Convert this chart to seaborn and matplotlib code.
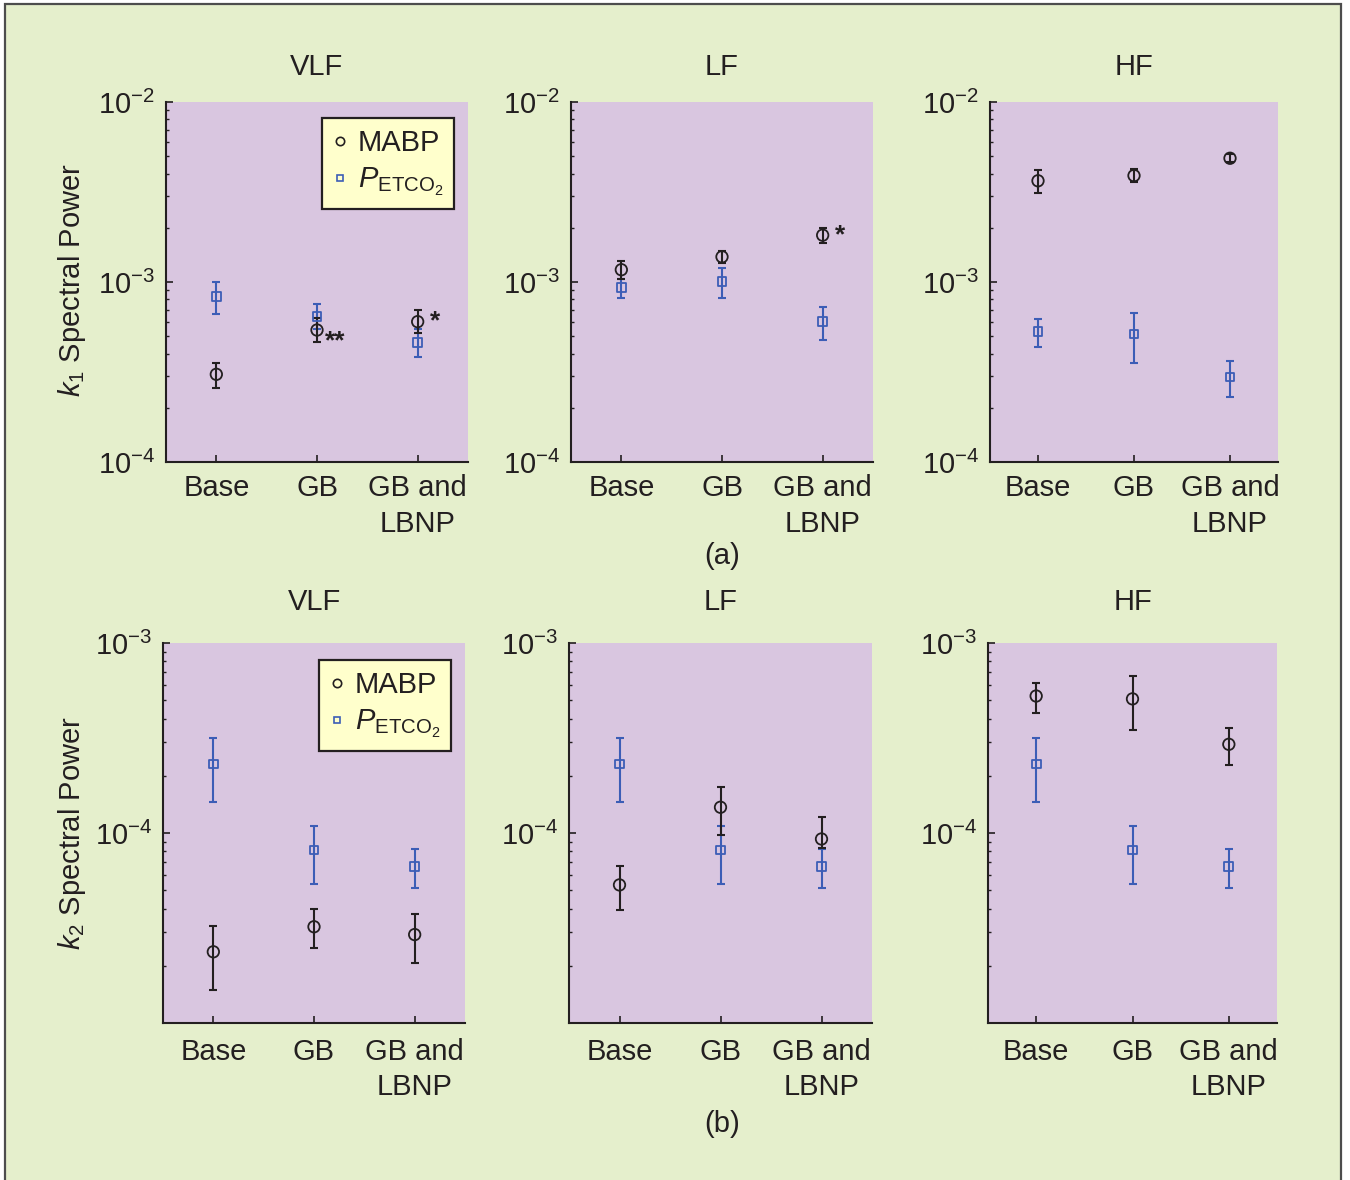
import numpy as np
import pandas as pd
import matplotlib
matplotlib.use("Agg")
import matplotlib.pyplot as plt
from matplotlib.patches import Rectangle
from matplotlib.lines import Line2D
from matplotlib.ticker import LogLocator, FixedLocator, LogFormatterMathtext, NullFormatter
import seaborn as sns

# ---------------------------------------------------------------- data
conditions = ["Base", "GB", "GB and\nLBNP"]
bands = ["VLF", "LF", "HF"]

# k1 spectral power (mean, lower bar end, upper bar end)
k1_vlf_mabp = [3.07e-4, 5.41e-4, 6.02e-4]
k1_vlf_mabp_lo = [2.59e-4, 4.66e-4, 5.20e-4]
k1_vlf_mabp_hi = [3.56e-4, 6.28e-4, 6.99e-4]
k1_vlf_pet = [8.28e-4, 6.42e-4, 4.62e-4]
k1_vlf_pet_lo = [6.62e-4, 5.48e-4, 3.82e-4]
k1_vlf_pet_hi = [9.96e-4, 7.52e-4, 5.48e-4]

k1_lf_mabp = [1.17e-3, 1.38e-3, 1.82e-3]
k1_lf_mabp_lo = [1.035e-3, 1.28e-3, 1.64e-3]
k1_lf_mabp_hi = [1.31e-3, 1.49e-3, 2.00e-3]
k1_lf_pet = [9.30e-4, 1.01e-3, 6.02e-4]
k1_lf_pet_lo = [8.18e-4, 8.12e-4, 4.76e-4]
k1_lf_pet_hi = [1.04e-3, 1.20e-3, 7.29e-4]

k1_hf_mabp = [3.65e-3, 3.90e-3, 4.87e-3]
k1_hf_mabp_lo = [3.11e-3, 3.59e-3, 4.62e-3]
k1_hf_mabp_hi = [4.17e-3, 4.23e-3, 5.12e-3]
k1_hf_pet = [5.30e-4, 5.14e-4, 2.97e-4]
k1_hf_pet_lo = [4.35e-4, 3.55e-4, 2.31e-4]
k1_hf_pet_hi = [6.25e-4, 6.73e-4, 3.64e-4]

# k2 spectral power
k2_vlf_mabp = [2.37e-5, 3.21e-5, 2.92e-5]
k2_vlf_mabp_lo = [1.49e-5, 2.49e-5, 2.06e-5]
k2_vlf_mabp_hi = [3.25e-5, 3.97e-5, 3.76e-5]
k2_vlf_pet = [2.31e-4, 8.14e-5, 6.65e-5]
k2_vlf_pet_lo = [1.46e-4, 5.39e-5, 5.12e-5]
k2_vlf_pet_hi = [3.16e-4, 1.093e-4, 8.24e-5]

k2_lf_mabp = [5.33e-5, 1.366e-4, 9.30e-5]
k2_lf_mabp_lo = [3.93e-5, 9.76e-5, 8.30e-5]
k2_lf_mabp_hi = [6.70e-5, 1.75e-4, 1.21e-4]
k2_lf_pet = [2.31e-4, 8.14e-5, 6.65e-5]
k2_lf_pet_lo = [1.46e-4, 5.39e-5, 5.12e-5]
k2_lf_pet_hi = [3.16e-4, 1.093e-4, 8.24e-5]

k2_hf_mabp = [5.26e-4, 5.08e-4, 2.93e-4]
k2_hf_mabp_lo = [4.30e-4, 3.48e-4, 2.27e-4]
k2_hf_mabp_hi = [6.18e-4, 6.70e-4, 3.57e-4]
k2_hf_pet = [2.31e-4, 8.14e-5, 6.65e-5]
k2_hf_pet_lo = [1.46e-4, 5.39e-5, 5.12e-5]
k2_hf_pet_hi = [3.16e-4, 1.093e-4, 8.24e-5]

# significance marks: (row, band index, condition index, text)
sig_marks = [(0, 0, 1, "**"), (0, 0, 2, "*"), (0, 1, 2, "*")]

# ---------------------------------------------------------------- style
BG = "#E5EFCC"
PANEL = "#D9C6E0"
BLUE = "#3C5DB6"
INK = "#231F20"
FS = 21

sns.set_style("ticks")
plt.rcParams["font.family"] = ["Liberation Sans", "DejaVu Sans"]
plt.rcParams["mathtext.fontset"] = "custom"
plt.rcParams["mathtext.rm"] = "Liberation Sans"
plt.rcParams["mathtext.it"] = "Liberation Sans:italic"
plt.rcParams["mathtext.sf"] = "Liberation Sans"
plt.rcParams["text.color"] = INK
plt.rcParams["axes.labelcolor"] = INK

fig = plt.figure(figsize=(13.5, 11.8), dpi=100)
fig.patch.set_facecolor("white")
W, H = 1350.0, 1180.0
fig.patches.append(Rectangle((5 / W, -0.01), 1336 / W, (H - 4) / H + 0.01,
                             transform=fig.transFigure, facecolor=BG,
                             edgecolor="#4d4d4d", linewidth=1.6, zorder=-10))

# axes boxes in pixel units: (left, top, right, bottom)
boxes = [
    [(166, 102, 468, 462), (571, 102, 873, 462), (990, 102, 1278, 462)],
    [(163, 643, 465, 1023), (569, 643, 872, 1023), (988, 643, 1277, 1023)],
]

panels = [
    [(k1_vlf_mabp, k1_vlf_mabp_lo, k1_vlf_mabp_hi, k1_vlf_pet, k1_vlf_pet_lo, k1_vlf_pet_hi),
     (k1_lf_mabp, k1_lf_mabp_lo, k1_lf_mabp_hi, k1_lf_pet, k1_lf_pet_lo, k1_lf_pet_hi),
     (k1_hf_mabp, k1_hf_mabp_lo, k1_hf_mabp_hi, k1_hf_pet, k1_hf_pet_lo, k1_hf_pet_hi)],
    [(k2_vlf_mabp, k2_vlf_mabp_lo, k2_vlf_mabp_hi, k2_vlf_pet, k2_vlf_pet_lo, k2_vlf_pet_hi),
     (k2_lf_mabp, k2_lf_mabp_lo, k2_lf_mabp_hi, k2_lf_pet, k2_lf_pet_lo, k2_lf_pet_hi),
     (k2_hf_mabp, k2_hf_mabp_lo, k2_hf_mabp_hi, k2_hf_pet, k2_hf_pet_lo, k2_hf_pet_hi)],
]
row_ylim = [(1e-4, 1e-2), (1e-5, 1e-3)]
row_major = [[1e-4, 1e-3, 1e-2], [1e-4, 1e-3]]
row_title_pad = [19.5, 24]
row_xpad = [9, 10.5]

pet_label = r"$\mathit{P}_{\mathrm{ETCO}_{2}}$"


def draw_series(ax, x, y, lo, hi, color, marker, size):
    y = np.asarray(y); lo = np.asarray(lo); hi = np.asarray(hi)
    ax.errorbar(x, y, yerr=[y - lo, hi - y], fmt="none", ecolor=color,
                elinewidth=1.5, capsize=2.6, capthick=1.5, zorder=2)
    df = pd.DataFrame({"cond": x, "power": y})
    sns.scatterplot(data=df, x="cond", y="power", marker=marker, s=size,
                    color=color, facecolor="none", edgecolor=color,
                    linewidth=1.3, ax=ax, zorder=3, legend=False)


axes = [[None] * 3 for _ in range(2)]
for r in range(2):
    for c in range(3):
        l, t, rr, b = boxes[r][c]
        ax = fig.add_axes([l / W, 1 - b / H, (rr - l) / W, (b - t) / H])
        axes[r][c] = ax
        ax.set_facecolor(PANEL)
        m, m_lo, m_hi, p, p_lo, p_hi = panels[r][c]
        x = np.arange(len(conditions))
        draw_series(ax, x, p, p_lo, p_hi, BLUE, "s", 40)
        draw_series(ax, x, m, m_lo, m_hi, INK, "o", 68)

        ax.set_yscale("log")
        ax.set_ylim(*row_ylim[r])
        ax.set_xlim(-0.5, 2.5)
        ax.yaxis.set_major_locator(FixedLocator(row_major[r]))
        ax.yaxis.set_major_formatter(LogFormatterMathtext())
        ax.yaxis.set_minor_locator(LogLocator(base=10, subs=np.arange(2, 10)))
        ax.yaxis.set_minor_formatter(NullFormatter())
        ax.set_xticks(x)
        ax.set_xticklabels(conditions, linespacing=1.33)
        ax.set_xlabel("")
        ax.set_ylabel("")
        for s in ("top", "right"):
            ax.spines[s].set_visible(False)
        for s in ("left", "bottom"):
            ax.spines[s].set_color(INK)
            ax.spines[s].set_linewidth(1.5)
        ax.tick_params(axis="x", which="major", direction="in", length=5,
                       width=1.2, colors=INK, labelsize=FS, pad=row_xpad[r])
        ax.tick_params(axis="y", which="major", direction="in", length=5,
                       width=1.2, colors=INK, labelsize=FS, pad=8)
        ax.tick_params(axis="y", which="minor", direction="in", length=2.5,
                       width=1.0, colors=INK)
        ax.set_title(bands[c], fontsize=FS, pad=row_title_pad[r], color=INK)
        ax.grid(False)

    # legend in the VLF panel
    handles = [
        Line2D([], [], ls="none", marker="o", ms=6, mfc="none", mec=INK, mew=1.2),
        Line2D([], [], ls="none", marker="s", ms=5, mfc="none", mec=BLUE, mew=1.2),
    ]
    leg = axes[r][0].legend(handles, ["MABP", pet_label], loc="upper right",
                            bbox_to_anchor=(0.955, 0.955), borderaxespad=0,
                            fontsize=FS, frameon=True, fancybox=False,
                            handlelength=0.45, handletextpad=0.4,
                            labelspacing=0.3, borderpad=0.38)
    leg.get_frame().set_facecolor("#FFFFCC")
    leg.get_frame().set_edgecolor(INK)
    leg.get_frame().set_linewidth(1.6)
    leg.get_frame().set_alpha(1)

for r, c, i, txt in sig_marks:
    m = panels[r][c][0]
    dx, dy = (6, -8) if txt == "**" else (9, 0)
    axes[r][c].annotate(txt, xy=(i, m[i]), xytext=(dx, dy),
                        textcoords="offset points", ha="left", va="center",
                        fontsize=19, fontweight="bold", color=INK)

# row labels and y-axis labels
fig.text(722 / W, 1 - 556 / H, "(a)", ha="center", va="center", fontsize=FS)
fig.text(722 / W, 1 - 1124 / H, "(b)", ha="center", va="center", fontsize=FS)
fig.text(72 / W, 1 - 280 / H, r"$\mathit{k}_1$ Spectral Power", rotation=90,
         ha="center", va="center", fontsize=FS)
fig.text(72 / W, 1 - 833 / H, r"$\mathit{k}_2$ Spectral Power", rotation=90,
         ha="center", va="center", fontsize=FS)

fig.savefig("out.png", dpi=100, facecolor=fig.get_facecolor())
